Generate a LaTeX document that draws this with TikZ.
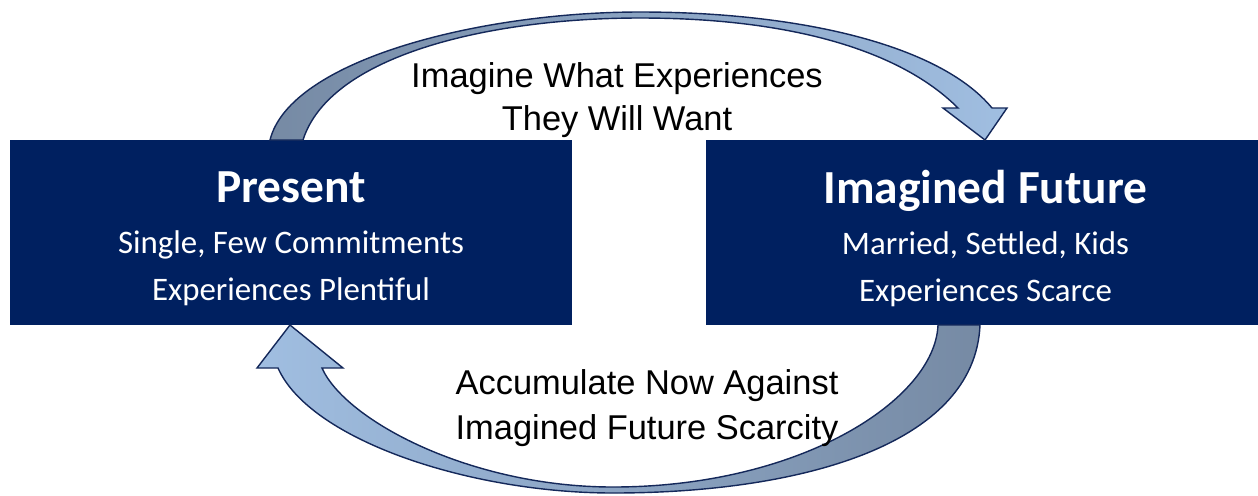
\documentclass[tikz,border=0pt]{standalone}
\usepackage{fontspec}
\setmainfont{Liberation Sans}
\newfontfamily\panelfont{Carlito}
\definecolor{navy}{RGB}{0,32,96}
\definecolor{banddark}{RGB}{118,138,164}
\definecolor{bandlight}{RGB}{160,190,225}
\definecolor{bandline}{RGB}{20,40,90}
\tikzset{
  panel/.style={fill=navy, minimum height=3.7cm, inner sep=0pt},
  paneltext/.style={text=white, align=center, inner sep=0pt,
    font=\panelfont\fontsize{18.7}{27}\selectfont},
  band/.style={draw=bandline, line width=0.8pt, line join=miter},
  caption/.style={align=center, font=\fontsize{19.6}{24.6}\selectfont}
}
\newcommand{\panelhead}[1]{{\bfseries\fontsize{27}{29}\selectfont #1}\\[2pt]}
\begin{document}
\begin{tikzpicture}[x=0.02cm, y=-0.02cm]
  \useasboundingbox (0,0) rectangle (1258,495);

  % the two states
  \node[panel, minimum width=11.24cm] (present) at (291,232.5) {};
  \node[panel, minimum width=11.04cm] (future) at (982,232.5) {};
  \node[paneltext] (presenttext) at ([yshift=-3.5pt]present.center)
    {\panelhead{Present}Single, Few Commitments\\ Experiences Plentiful};
  \node[paneltext] (futuretext) at ([xshift=2pt, yshift=-3.5pt]future.center)
    {\panelhead{Imagined Future}Married, Settled, Kids\\ Experiences Scarce};

  % upper arrow, present to future
  \draw[band, left color=banddark, right color=bandlight]
    (270,140) .. controls (290,60) and (480,12) .. (640,12)
    .. controls (800,12) and (940,45) .. (992,108)
    -- (1007,108) -- (985,140) -- (943,108) -- (958,108)
    .. controls (900,50) and (790,18) .. (640,18)
    .. controls (490,18) and (330,55) .. (303,140) -- cycle;

  % lower arrow, future back to present
  \draw[band, left color=bandlight, right color=banddark]
    (938,325) .. controls (935,400) and (800,487) .. (613,487)
    .. controls (470,487) and (345,420) .. (322,368)
    -- (343,368) -- (290,325) -- (257,368) -- (278,368)
    .. controls (310,440) and (470,493) .. (613,493)
    .. controls (800,493) and (975,445) .. (980,325) -- cycle;

  \node[caption] (imagine) at (617,100) {Imagine What Experiences\\They Will Want};
  \node[caption, font=\fontsize{19.6}{26}\selectfont] (accumulate) at (647,408)
    {Accumulate Now Against\\Imagined Future Scarcity};
\end{tikzpicture}
\end{document}
